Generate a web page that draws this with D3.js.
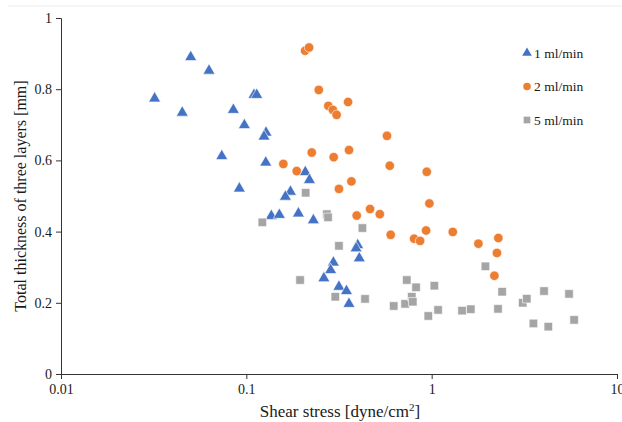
<!DOCTYPE html>
<html>
<head>
<meta charset="utf-8">
<script src="https://cdn.jsdelivr.net/npm/d3@7/dist/d3.min.js"></script>
<style>
body{margin:0;background:#fff;}
text{font-family:"Liberation Serif","Times New Roman",serif;fill:#1a1a1a;}
</style>
</head>
<body>
<div class="main"></div>
<script>
// shear stress (x) and thickness (y) for each flow rate
var flow1x=[0.0501,0.0629,0.0320,0.0451,0.110,0.1138,0.0851,0.0976,0.1277,0.1246,0.0737,0.1273,0.0917,0.173,0.1624,0.208,0.219,0.1364,0.1507,0.191,0.230,0.399,0.391,0.407,0.295,0.285,0.262,0.316,0.347,0.358];
var flow1y=[0.890,0.852,0.774,0.734,0.784,0.784,0.742,0.699,0.678,0.667,0.612,0.594,0.521,0.512,0.498,0.567,0.545,0.444,0.447,0.451,0.432,0.362,0.353,0.325,0.313,0.292,0.269,0.245,0.233,0.197];
var flow2x=[0.2075,0.218,0.246,0.277,0.293,0.307,0.354,0.574,0.2254,0.296,0.358,0.594,0.941,0.187,0.1583,0.316,0.369,0.972,0.394,0.465,0.525,0.601,0.804,0.866,0.933,1.3,1.787,2.29,2.25,2.18];
var flow2y=[0.908,0.917,0.798,0.753,0.742,0.728,0.764,0.669,0.622,0.609,0.629,0.585,0.568,0.570,0.590,0.520,0.541,0.479,0.445,0.4635,0.449,0.391,0.380,0.374,0.403,0.399,0.366,0.382,0.340,0.276];
var flow5x=[0.122,0.195,0.209,0.272,0.276,0.423,0.316,0.302,0.437,0.734,0.824,1.034,0.624,0.719,0.781,0.791,0.959,1.083,1.95,2.40,1.459,1.626,2.28,3.10,3.26,4.04,5.51,3.54,4.26,5.87];
var flow5y=[0.426,0.264,0.509,0.449,0.440,0.410,0.360,0.217,0.211,0.264,0.2435,0.248,0.191,0.197,0.217,0.203,0.163,0.180,0.3025,0.231,0.178,0.182,0.183,0.200,0.2115,0.233,0.225,0.142,0.133,0.152];
var seriesNames=['1 ml/min','2 ml/min','5 ml/min'];
var xTicks=[0.01,0.1,1,10];
var yTicks=[0,0.2,0.4,0.6,0.8,1];

var W=622,H=422;
var margin={top:18,right:5,left:61,bottom:48};
var svg=d3.select('.main').append('svg')
    .attr('width',W).attr('height',H);

var x=d3.scaleLog().domain([0.01,10]).range([margin.left,617]);
var y=d3.scaleLinear().domain([0,1]).range([374,margin.top]);

// faint chart border
svg.append('line').attr('x1',8).attr('x2',W).attr('y1',6).attr('y2',6)
   .attr('stroke','#ececec').attr('stroke-width',1);

var xAxis=d3.axisBottom(x).tickValues(xTicks).tickFormat(d3.format('')).tickSizeOuter(0).tickSize(5);
var gx=svg.append('g').attr('transform','translate(0,374)').call(xAxis);
var yAxis=d3.axisLeft(y).tickValues(yTicks).tickFormat(d=>d===0?'0':d===1?'1':d3.format('.1f')(d)).tickSizeOuter(0).tickSize(5);
var gy=svg.append('g').attr('transform','translate('+margin.left+',0)').call(yAxis);
[gx,gy].forEach(function(g){
  g.select('.domain').attr('stroke','#333');
  g.selectAll('.tick line').attr('stroke','#333');
  g.selectAll('.tick text').style('font-family','"Liberation Serif",serif').style('font-size','14px').attr('fill','#1a1a1a');
});
gx.selectAll('.tick text').attr('dy','0.85em');
gy.selectAll('.tick text').attr('dx','-1');

svg.append('text').attr('x',340).attr('y',417).attr('text-anchor','middle')
   .style('font-size','17px')
   .html('Shear stress [dyne/cm<tspan dy="-6" font-size="11px">2</tspan><tspan dy="6">]</tspan>');
svg.append('text').attr('transform','translate(26,196) rotate(-90)').attr('text-anchor','middle')
   .style('font-size','16px').text('Total thickness of three layers [mm]');

var colors=['#4472C4','#ED7D31','#A5A5A5'];
var symbols=[d3.symbolTriangle,d3.symbolCircle,d3.symbolSquare];
var sizes=[62,70,72];
var sets=[d3.zip(flow1x,flow1y),d3.zip(flow2x,flow2y),d3.zip(flow5x,flow5y)];

sets.forEach(function(data,i){
  svg.append('g').selectAll('path').data(data).enter().append('path')
    .attr('d',d3.symbol().type(symbols[i]).size(sizes[i]))
    .attr('transform',d=>'translate('+x(d[0])+','+y(d[1])+')')
    .attr('fill',colors[i])
    .attr('stroke','#fff').attr('stroke-width',0.6);
});

// legend
var legend=svg.append('g').selectAll('g').data(seriesNames).enter().append('g')
   .attr('transform',(d,i)=>'translate(527,'+(53+i*33.5)+')');
legend.append('path')
   .attr('d',(d,i)=>d3.symbol().type(symbols[i]).size(i===0?40:45)())
   .attr('fill',(d,i)=>colors[i]);
legend.append('text').attr('x',7).attr('dy','0.35em')
   .style('font-size','13.5px').text(d=>d);
</script>
</body>
</html>
